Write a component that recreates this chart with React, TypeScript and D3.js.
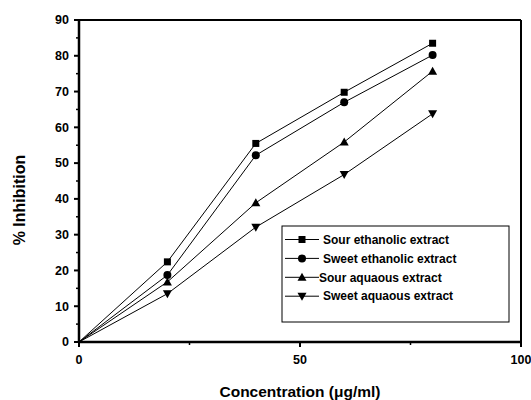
import React from "react";
import * as d3 from "d3";

const concentrations = [0, 20, 40, 60, 80];
const sourEthanolic = [0, 22.4, 55.5, 69.8, 83.5];
const sweetEthanolic = [0, 18.7, 52.2, 67.0, 80.2];
const sourAquaous = [0, 16.8, 38.9, 55.9, 75.7];
const sweetAquaous = [0, 13.5, 32.1, 46.8, 63.8];
const seriesNames = ["Sour ethanolic extract", "Sweet ethanolic extract", "Sour aquaous extract", "Sweet aquaous extract"];
const seriesSymbols = ["square", "circle", "triangleUp", "triangleDown"];
const xTicks = [0, 50, 100];
const yTicks = [0, 10, 20, 30, 40, 50, 60, 70, 80, 90];

const W = 531, H = 400;
const L = 79, R = 521, T = 20, B = 342;

function Marker({ kind, x, y }: { kind: string; x: number; y: number }) {
  if (kind === "square") return <rect x={x - 3.5} y={y - 3.5} width={7} height={7} fill="#000" />;
  if (kind === "circle") return <circle cx={x} cy={y} r={4} fill="#000" />;
  if (kind === "triangleUp")
    return <path d={`M${x},${y - 4.5}L${x + 4.5},${y + 3.5}L${x - 4.5},${y + 3.5}Z`} fill="#000" />;
  return <path d={`M${x},${y + 4.5}L${x + 4.5},${y - 3.5}L${x - 4.5},${y - 3.5}Z`} fill="#000" />;
}

export default function App() {
  const x = d3.scaleLinear().domain([0, 100]).range([L, R]);
  const y = d3.scaleLinear().domain([0, 90]).range([B, T]);
  const allSeries = [sourEthanolic, sweetEthanolic, sourAquaous, sweetAquaous];
  const line = d3.line<number>().x((_, i) => x(concentrations[i])).y((d) => y(d));
  const font = "'Liberation Sans', Arial, sans-serif";
  const minorY = d3.range(5, 90, 10);
  const minorX = [25, 75];
  const legendX = 282, legendY = 226, legendW = 227, legendH = 96;
  const textOffsets = [323, 323, 319, 323];

  return (
    <svg width={W} height={H} style={{ position: "absolute", left: 0, top: 0 }} fontFamily={font}>
      <rect x={0} y={0} width={W} height={H} fill="#fff" />
      {allSeries.map((s, k) => (
        <g key={k}>
          <path d={line(s) || ""} fill="none" stroke="#000" strokeWidth={1} />
          {s.map((v, i) => (i === 0 ? null : <Marker key={i} kind={seriesSymbols[k]} x={x(concentrations[i])} y={y(v)} />))}
        </g>
      ))}
      {/* frame */}
      <line x1={L} y1={T} x2={R} y2={T} stroke="#000" strokeWidth={2} />
      <line x1={R} y1={T} x2={R} y2={B} stroke="#000" strokeWidth={2} />
      <line x1={L} y1={T - 1} x2={L} y2={B + 1} stroke="#000" strokeWidth={2.5} />
      <line x1={L - 1} y1={B} x2={R + 1} y2={B} stroke="#000" strokeWidth={2.5} />
      {/* y ticks */}
      {yTicks.map((t) => (
        <g key={t}>
          <line x1={L - 5} x2={L} y1={y(t)} y2={y(t)} stroke="#000" strokeWidth={2} />
          <text x={L - 10} y={y(t)} dy="0.35em" textAnchor="end" fontSize={12.5} fontWeight="bold" fill="#000">{t}</text>
        </g>
      ))}
      {minorY.map((t) => (
        <line key={t} x1={L - 3} x2={L} y1={y(t)} y2={y(t)} stroke="#000" strokeWidth={1.5} />
      ))}
      {/* x ticks */}
      {xTicks.map((t) => (
        <g key={t}>
          <line x1={x(t)} x2={x(t)} y1={B} y2={B + 5} stroke="#000" strokeWidth={2} />
          <text x={x(t)} y={B + 22} textAnchor="middle" fontSize={12.5} fontWeight="bold" fill="#000">{t}</text>
        </g>
      ))}
      {minorX.map((t) => (
        <line key={t} x1={x(t)} x2={x(t)} y1={B} y2={B + 3} stroke="#000" strokeWidth={1.5} />
      ))}
      {/* axis titles */}
      <text x={300} y={397} textAnchor="middle" fontSize={15.5} fontWeight="bold" fill="#000">Concentration (μg/ml)</text>
      <text transform={`translate(25,200) rotate(-90)`} textAnchor="middle" fontSize={16} fontWeight="bold" fill="#000">% Inhibition</text>
      {/* legend */}
      <rect x={legendX} y={legendY} width={legendW} height={legendH} fill="#fff" stroke="#000" strokeWidth={1} />
      {seriesNames.map((n, k) => {
        const ly = 239.5 + k * 18.9;
        return (
          <g key={n}>
            <line x1={285} x2={319} y1={ly} y2={ly} stroke="#000" strokeWidth={1} />
            <Marker kind={seriesSymbols[k]} x={302} y={ly} />
            <text x={textOffsets[k]} y={ly} dy="0.35em" fontSize={12} fontWeight="bold" fill="#000">{n}</text>
          </g>
        );
      })}
    </svg>
  );
}
